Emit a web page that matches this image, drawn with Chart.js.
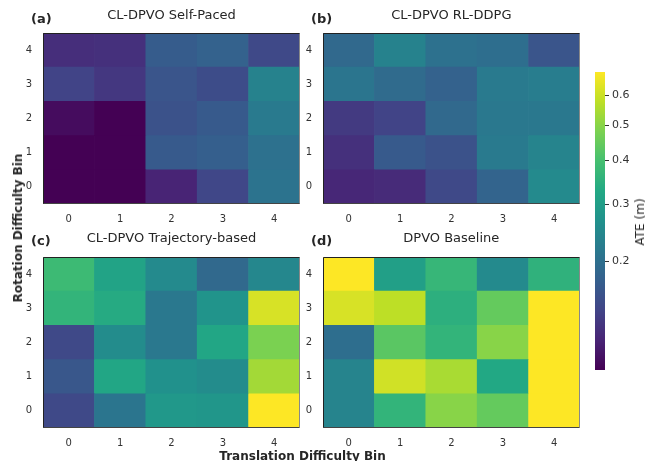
<!DOCTYPE html>
<html>
<head>
<meta charset="utf-8">
<script src="https://cdn.jsdelivr.net/npm/chart.js@4.4.1/dist/chart.umd.min.js"></script>
<style>
  html, body { margin: 0; padding: 0; background: #fff; }
  #fig { position: relative; width: 668px; height: 461px; font-family: "DejaVu Sans", sans-serif; color: #262626; }
  #fig canvas { position: absolute; }
  .lbl { position: absolute; white-space: nowrap; line-height: 1; }
  .tag { font-weight: bold; font-size: 13px; }
  .ttl { font-size: 13px; transform: translateX(-50%); }
  .axl { font-weight: bold; font-size: 12px; }
</style>
</head>
<body>
<div id="fig">
  <canvas id="pa" width="304" height="215" style="left:0px;top:13px"></canvas>
  <canvas id="pb" width="304" height="215" style="left:280px;top:13px"></canvas>
  <canvas id="pc" width="304" height="215" style="left:0px;top:237px"></canvas>
  <canvas id="pd" width="304" height="215" style="left:280px;top:237px"></canvas>
  <canvas id="cb" width="55" height="338" style="left:595px;top:52px"></canvas>

  <div class="lbl tag" style="left:31px;top:11.5px">(a)</div>
  <div class="lbl ttl" style="left:171.5px;top:7.5px">CL-DPVO Self-Paced</div>
  <div class="lbl tag" style="left:311px;top:11.5px">(b)</div>
  <div class="lbl ttl" style="left:451.3px;top:7.5px">CL-DPVO RL-DDPG</div>
  <div class="lbl tag" style="left:31px;top:234px">(c)</div>
  <div class="lbl ttl" style="left:171.5px;top:230.5px">CL-DPVO Trajectory-based</div>
  <div class="lbl tag" style="left:311px;top:234px">(d)</div>
  <div class="lbl ttl" style="left:451.3px;top:230.5px">DPVO Baseline</div>

  <div class="lbl axl" style="left:18px;top:227.5px;transform:translate(-50%,-50%) rotate(-90deg)">Rotation Difficulty Bin</div>
  <div class="lbl axl" style="left:302.5px;top:449.5px;transform:translateX(-50%)">Translation Difficulty Bin</div>
  <div class="lbl" style="left:640px;top:222px;font-size:12px;transform:translate(-50%,-50%) rotate(-90deg)">ATE (m)</div>
</div>

<script>
// bins (rows = rotation bin 0..4, columns = translation bin 0..4)
const transBins = ['0', '1', '2', '3', '4'];
const rotBins = ['0', '1', '2', '3', '4'];

// ATE (m) per cell
const selfPaced = [
  [0.083, 0.083, 0.107, 0.140, 0.207],
  [0.083, 0.083, 0.165, 0.173, 0.202],
  [0.090, 0.083, 0.154, 0.165, 0.220],
  [0.137, 0.124, 0.158, 0.147, 0.235],
  [0.116, 0.118, 0.169, 0.177, 0.143]
];
const rlDdpg = [
  [0.110, 0.113, 0.143, 0.181, 0.251],
  [0.118, 0.165, 0.154, 0.220, 0.240],
  [0.127, 0.137, 0.189, 0.216, 0.216],
  [0.211, 0.193, 0.177, 0.220, 0.225],
  [0.189, 0.235, 0.202, 0.198, 0.158]
];
const trajBased = [
  [0.143, 0.211, 0.284, 0.278, 0.690],
  [0.161, 0.321, 0.267, 0.256, 0.537],
  [0.143, 0.256, 0.216, 0.321, 0.481],
  [0.362, 0.334, 0.216, 0.273, 0.619],
  [0.383, 0.314, 0.251, 0.189, 0.245]
];
const baseline = [
  [0.240, 0.362, 0.499, 0.446, 0.690],
  [0.240, 0.608, 0.546, 0.327, 0.690],
  [0.198, 0.430, 0.362, 0.499, 0.690],
  [0.619, 0.577, 0.348, 0.446, 0.690],
  [0.690, 0.302, 0.369, 0.251, 0.355]
];

const cbTicks = [0.2, 0.3, 0.4, 0.5, 0.6];
const VMIN = 0.083, VMAX = 0.687, GAMMA = 0.2;

const viridis = ['#440154', '#482475', '#414487', '#355f8d', '#2a788e', '#21918c',
                 '#22a884', '#44bf70', '#7ad151', '#bddf26', '#fde725'];

function hexRgb(h) {
  return [1, 3, 5].map(i => parseInt(h.substr(i, 2), 16));
}
const viridisRgb = viridis.map(hexRgb);

function viridisAt(t) {
  t = Math.min(1, Math.max(0, t));
  const p = t * (viridisRgb.length - 1);
  const i = Math.min(Math.floor(p), viridisRgb.length - 2);
  const f = p - i;
  const a = viridisRgb[i], b = viridisRgb[i + 1];
  const c = a.map((v, k) => Math.round(v + (b[k] - v) * f));
  return 'rgb(' + c.join(',') + ')';
}

function norm(v) {
  const lo = Math.pow(VMIN, GAMMA), hi = Math.pow(VMAX, GAMMA);
  return (Math.pow(Math.max(v, VMIN), GAMMA) - lo) / (hi - lo);
}

// power-law axis for the colorbar
const LinearScale = Chart.LinearScale || Chart.registry.getScale('linear');
class PowerScale extends LinearScale {
  _pw(v) { return Math.pow(v, this.options.gamma || GAMMA); }
  getPixelForValue(value) {
    const lo = this._pw(this.min), hi = this._pw(this.max);
    return this.getPixelForDecimal((this._pw(value) - lo) / (hi - lo));
  }
  getValueForPixel(pixel) {
    const g = this.options.gamma || GAMMA;
    const lo = this._pw(this.min), hi = this._pw(this.max);
    return Math.pow(lo + this.getDecimalForPixel(pixel) * (hi - lo), 1 / g);
  }
}
PowerScale.id = 'power';
PowerScale.defaults = LinearScale.defaults;
Chart.register(PowerScale);

const tickColor = '#333';
const tickFont = { family: 'DejaVu Sans', size: 10 };

const framePlugin = {
  id: 'frame',
  afterDraw(chart) {
    const { ctx, chartArea: a } = chart;
    ctx.save();
    ctx.lineWidth = 1;
    const seg = (x1, y1, x2, y2, col) => {
      ctx.strokeStyle = col;
      ctx.beginPath(); ctx.moveTo(x1, y1); ctx.lineTo(x2, y2); ctx.stroke();
    };
    const l = a.left + 0.5, r = a.right - 0.5, t = a.top + 0.5, b = a.bottom - 0.5;
    seg(l, t, r, t, '#222');
    seg(l, t, l, b, '#222');
    seg(l, b, r, b, '#444');
    seg(r, t, r, b, '#888');
    ctx.restore();
  }
};

function heatmap(id, values) {
  return new Chart(document.getElementById(id), {
    type: 'bar',
    data: {
      labels: transBins,
      datasets: rotBins.map((r, i) => ({
        label: 'Rotation ' + r,
        data: transBins.map(() => 1),
        backgroundColor: values[i].map(v => viridisAt(norm(v))),
        borderWidth: 0,
        barPercentage: 1,
        categoryPercentage: 1
      }))
    },
    options: {
      responsive: false,
      animation: false,
      devicePixelRatio: 1,
      layout: { padding: { top: 20, right: 4, left: 0, bottom: 0 } },
      plugins: { legend: { display: false }, tooltip: { enabled: false } },
      scales: {
        x: {
          stacked: true,
          grid: { display: false, drawTicks: false },
          border: { display: false },
          ticks: { padding: 9, color: tickColor, font: tickFont, maxRotation: 0 },
          afterFit: s => { s.height = 24; }
        },
        y: {
          stacked: true,
          min: 0,
          max: 5,
          grid: { display: false, drawTicks: true, tickLength: 11 },
          border: { display: false },
          ticks: { padding: 0, color: tickColor, font: tickFont, callback: (v, i) => rotBins[i] },
          afterBuildTicks: s => { s.ticks = rotBins.map((r, i) => ({ value: i + 0.5 })); },
          afterFit: s => { s.width = 43; }
        }
      }
    },
    plugins: [framePlugin]
  });
}

heatmap('pa', selfPaced);
heatmap('pb', rlDdpg);
heatmap('pc', trajBased);
heatmap('pd', baseline);

// colorbar
new Chart(document.getElementById('cb'), {
  type: 'bar',
  data: {
    labels: ['ATE'],
    datasets: [{
      data: [[VMIN, VMAX]],
      backgroundColor: c => {
        const a = c.chart.chartArea;
        if (!a) return viridis[0];
        const g = c.chart.ctx.createLinearGradient(0, a.bottom, 0, a.top);
        viridis.forEach((col, i) => g.addColorStop(i / (viridis.length - 1), col));
        return g;
      },
      borderWidth: 0,
      barPercentage: 1,
      categoryPercentage: 1
    }]
  },
  options: {
    responsive: false,
    animation: false,
    devicePixelRatio: 1,
    layout: { padding: { top: 20, bottom: 20, left: 0, right: 0 } },
    plugins: { legend: { display: false }, tooltip: { enabled: false } },
    scales: {
      x: { display: false },
      y: {
        type: 'power',
        position: 'right',
        min: VMIN,
        max: VMAX,
        grid: { display: true, drawOnChartArea: false, drawTicks: true, tickLength: 4, color: '#333', lineWidth: 1 },
        border: { display: false },
        ticks: { padding: 3, color: tickColor, font: { family: 'DejaVu Sans', size: 11 }, callback: v => v.toFixed(1) },
        afterBuildTicks: s => { s.ticks = cbTicks.map(v => ({ value: v })); },
        afterFit: s => { s.width = 45; }
      }
    }
  }
});
</script>
</body>
</html>
